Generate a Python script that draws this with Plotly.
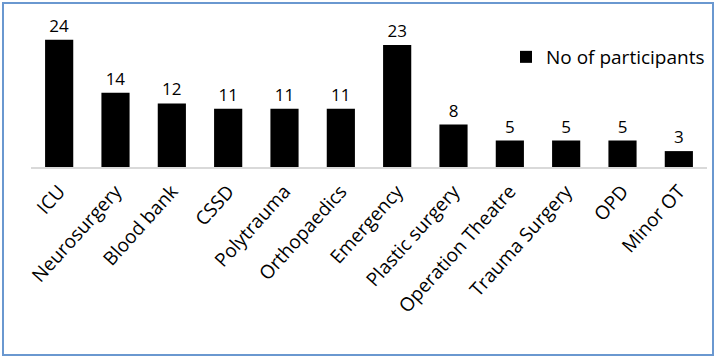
import plotly.graph_objects as go

categories = ["ICU", "Neurosurgery", "Blood bank", "CSSD", "Polytrauma", "Orthopaedics",
              "Emergency", "Plastic surgery", "Operation Theatre", "Trauma Surgery", "OPD", "Minor OT"]
participants = [24, 14, 12, 11, 11, 11, 23, 8, 5, 5, 5, 3]
series_name = "No of participants"

W, H = 719, 364
L, R, T, B = 31, 12, 8, 197
pw, ph = W - L - R, H - T - B

def px(x):
    return (x - L) / pw

def py(y):
    return (H - B - y) / ph

fig = go.Figure(go.Bar(
    x=categories, y=participants, name=series_name,
    marker=dict(color="black", line=dict(width=0)),
    text=[str(v) for v in participants], textposition="outside",
    textfont=dict(size=17, color="#000000", family="Open Sans"),
    cliponaxis=False, showlegend=True,
))

fig.update_layout(
    width=W, height=H,
    margin=dict(l=L, r=R, t=T, b=B, autoexpand=False),
    paper_bgcolor="white", plot_bgcolor="white",
    bargap=0.5,
    font=dict(family="Open Sans", color="#000000"),
    xaxis=dict(showline=True, linecolor="#d9d9d9", linewidth=1.5, tickangle=-48,
               tickfont=dict(size=19, family="Open Sans"), ticks="", showgrid=False,
               ticklabelstandoff=4),
    yaxis=dict(range=[0, 30], visible=False, showgrid=False),
    legend=dict(x=px(506), y=py(57), xanchor="left", yanchor="middle",
                font=dict(size=19, family="Open Sans"), bgcolor="rgba(0,0,0,0)",
                itemwidth=30),
    showlegend=True,
    shapes=[dict(type="rect", xref="paper", yref="paper",
                 x0=px(3), x1=px(713), y0=py(355), y1=py(3),
                 line=dict(color="#6a98d0", width=2), fillcolor="rgba(0,0,0,0)", layer="below")],
)

fig.write_html("out.html", config={"displayModeBar": False},
               post_script="document.body.style.margin='0';document.body.style.padding='0';")
